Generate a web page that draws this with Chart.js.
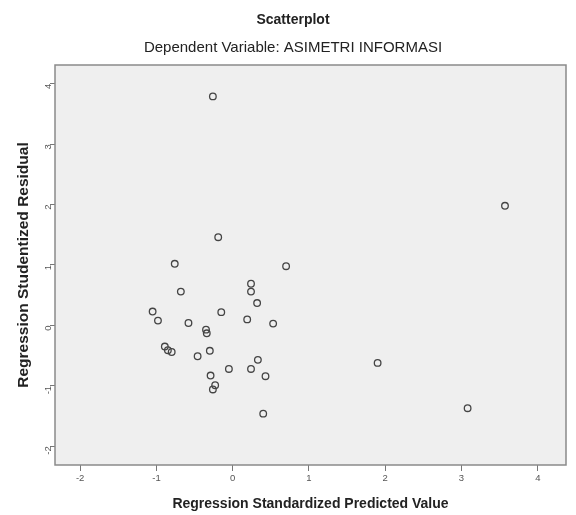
<!DOCTYPE html>
<html>
<head>
<meta charset="utf-8">
<script src="https://cdn.jsdelivr.net/npm/chart.js@4.4.1/dist/chart.umd.min.js"></script>
<style>
  html, body { margin: 0; padding: 0; background: #fff; }
  #wrap { width: 576px; height: 515px; }
</style>
</head>
<body>
<div id="wrap"><canvas id="scatter" width="576" height="515"></canvas></div>
<script>
// values
var predicted = [-0.26, -0.19, -0.76, 0.70, 0.24, 0.24, -0.68, 0.32, -1.05, -0.15,
                 -0.98, 0.19, -0.58, 0.53, -0.35, -0.34, -0.89, -0.85, -0.80, -0.30,
                 -0.46, 0.33, -0.05, 0.24, 0.43, -0.29, -0.23, -0.26, 0.40,
                 3.57, 1.90, 3.08];
var residual = [3.79, 1.46, 1.02, 0.98, 0.69, 0.56, 0.56, 0.37, 0.23, 0.22,
                0.08, 0.10, 0.04, 0.03, -0.07, -0.13, -0.35, -0.41, -0.44, -0.42,
                -0.51, -0.57, -0.72, -0.72, -0.84, -0.83, -0.99, -1.06, -1.46,
                1.98, -0.62, -1.37];
var xTicks = [-2, -1, 0, 1, 2, 3, 4];
var yTicks = [-2, -1, 0, 1, 2, 3, 4];

var titleText = 'Scatterplot';
var subTitleText = 'Dependent Variable: ASIMETRI INFORMASI';

var points = predicted.map(function(v, i) {
    return { x: v, y: residual[i] };
});

var plotFrame = {
    id: 'plotFrame',
    beforeDatasetsDraw: function(chart) {
        var a = chart.chartArea, ctx = chart.ctx;
        ctx.save();
        ctx.fillStyle = '#efefef';
        ctx.fillRect(a.left, a.top, a.right - a.left, a.bottom - a.top);
        ctx.strokeStyle = '#8a8a8a';
        ctx.lineWidth = 1.5;
        ctx.strokeRect(a.left, a.top, a.right - a.left, a.bottom - a.top);
        ctx.restore();
    },
    afterDraw: function(chart) {
        var ctx = chart.ctx;
        ctx.save();
        ctx.fillStyle = '#222';
        ctx.textAlign = 'center';
        ctx.textBaseline = 'middle';
        ctx.font = 'bold 14px "Liberation Sans", Arial, sans-serif';
        ctx.fillText(titleText, 293, 20);
        ctx.font = '15px "Liberation Sans", Arial, sans-serif';
        ctx.fillText(subTitleText, 293, 48);
        ctx.restore();
    }
};

var ctx = document.getElementById('scatter');
var chart = new Chart(ctx, {
    type: 'scatter',
    data: {
        datasets: [{
            data: points,
            pointStyle: 'circle',
            pointRadius: 3.3,
            pointBorderWidth: 1.3,
            borderColor: '#444',
            backgroundColor: 'rgba(0,0,0,0)'
        }]
    },
    options: {
        responsive: false,
        animation: false,
        layout: { padding: { top: 65, right: 10, bottom: 0, left: 0 } },
        plugins: {
            legend: { display: false },
            title: { display: false },
            tooltip: { enabled: false }
        },
        scales: {
            x: {
                type: 'linear',
                min: -2.33,
                max: 4.37,
                afterBuildTicks: function(scale) {
                    scale.ticks = xTicks.map(function(v) { return { value: v }; });
                },
                afterFit: function(scale) { scale.height = 50; },
                grid: { drawOnChartArea: false, drawTicks: true, tickLength: 6, color: '#777', tickWidth: 1 },
                border: { display: false },
                ticks: {
                    color: '#555',
                    padding: 2,
                    maxRotation: 0,
                    font: { size: 9.5, family: '"Liberation Sans", Arial, sans-serif' }
                },
                title: {
                    display: true,
                    text: 'Regression Standardized Predicted Value',
                    color: '#222',
                    padding: { top: 0, bottom: 2 },
                    font: { size: 14, weight: 'bold', family: '"Liberation Sans", Arial, sans-serif' }
                }
            },
            y: {
                type: 'linear',
                min: -2.31,
                max: 4.31,
                afterBuildTicks: function(scale) {
                    scale.ticks = yTicks.map(function(v) { return { value: v }; });
                },
                afterFit: function(scale) { scale.width = 55; },
                grid: { drawOnChartArea: false, drawTicks: true, tickLength: 5, color: '#777', tickWidth: 1 },
                border: { display: false },
                ticks: {
                    color: '#555',
                    padding: 2,
                    minRotation: 90,
                    maxRotation: 90,
                    font: { size: 9.5, family: '"Liberation Sans", Arial, sans-serif' }
                },
                title: {
                    display: true,
                    text: 'Regression Studentized Residual',
                    color: '#222',
                    padding: { top: 14, bottom: 0 },
                    font: { size: 15.5, weight: 'bold', family: '"Liberation Sans", Arial, sans-serif' }
                }
            }
        }
    },
    plugins: [plotFrame]
});
</script>
</body>
</html>
